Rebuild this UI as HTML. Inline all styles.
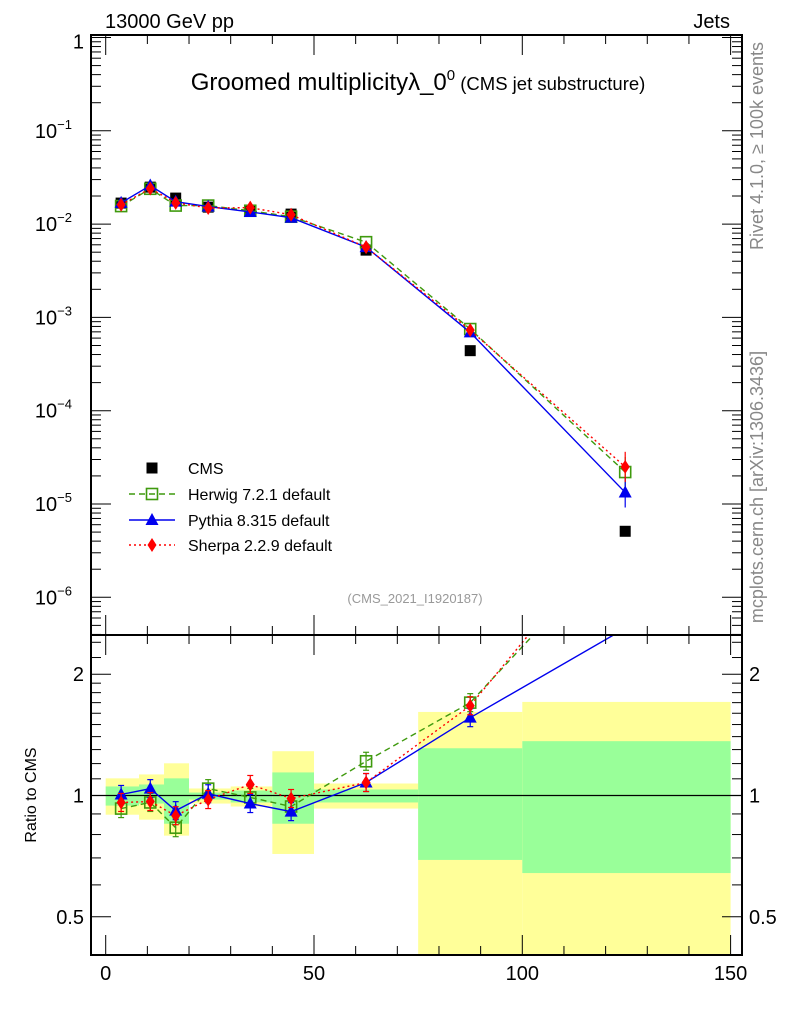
<!DOCTYPE html>
<html><head><meta charset="utf-8"><style>
body{margin:0;background:#fff;}
svg text{font-family:"Liberation Sans",sans-serif;}
</style></head><body>
<svg id="c" width="786" height="1024" xmlns="http://www.w3.org/2000/svg">
<text x="105" y="28" font-size="20">13000 GeV pp</text>
<text x="730" y="28" font-size="20" text-anchor="end">Jets</text>
<text x="418" y="90" font-size="24" text-anchor="middle">Groomed multiplicityλ_0<tspan dy="-10" font-size="15">0</tspan><tspan dy="10" font-size="18.5"> (CMS jet substructure)</tspan></text>
<text x="415" y="603" font-size="13" fill="#999" text-anchor="middle">(CMS_2021_I1920187)</text>
<text transform="translate(763,146) rotate(-90)" font-size="18" fill="#888" text-anchor="middle">Rivet 4.1.0, ≥ 100k events</text>
<text transform="translate(763,487) rotate(-90)" font-size="18" fill="#888" text-anchor="middle">mcplots.cern.ch [arXiv:1306.3436]</text>
<text transform="translate(36,795) rotate(-90)" font-size="16" text-anchor="middle">Ratio to CMS</text>
<g id="bands"></g><g id="grid"></g><g id="marks"></g><g id="axes"></g>
</svg>
<script>
const xs=[3.7,10.7,16.8,24.6,34.7,44.5,62.5,87.5,124.7];
const binEdges=[0,8,14,20,30,40,50,75,100,150];
const cms=[0.0168,0.0249,0.0190,0.0152,0.0141,0.0128,0.00526,0.00044,0.0000051];
const herwig=[0.0156,0.0239,0.0158,0.0158,0.0139,0.0120,0.0064,0.00075,0.000022];
const pythia=[0.0169,0.0259,0.0174,0.0154,0.0135,0.0117,0.00567,0.00069,0.0000133];
const sherpa=[0.0161,0.0241,0.0169,0.0149,0.0150,0.0126,0.00567,0.00073,0.000025];
const herwigRatio=[0.928,0.961,0.832,1.04,0.989,0.939,1.216,1.70,4.4];
const pythiaRatio=[1.006,1.04,0.917,1.01,0.955,0.912,1.077,1.56,2.6];
const sherpaRatio=[0.961,0.966,0.891,0.977,1.065,0.983,1.077,1.67,4.9];
const yellowUp=[1.103,1.128,1.202,1.041,1.053,1.288,1.071,1.612,1.707];
const yellowDn=[0.896,0.871,0.795,0.955,0.939,0.716,0.928,0.3,0.3];
const greenUp=[1.053,1.065,1.103,1.017,1.029,1.141,1.035,1.31,1.364];
const greenDn=[0.944,0.955,0.851,0.977,0.961,0.851,0.961,0.692,0.642];
const xTicks=[0,50,100,150];
const yExps=[0,-1,-2,-3,-4,-5,-6];
const ratioTicks=[2,1,0.5];

const NS='http://www.w3.org/2000/svg';
const L=91,R=742,T=35,MB=635,RB=955;
const X=v=>105.7+v*4.166;
const Y=v=>37.5-Math.log10(v)*93.3;
const RY=v=>795.5-Math.log2(v)*121.3;
function mk(p,tag,a){const e=document.createElementNS(NS,tag);for(const k in a)e.setAttribute(k,a[k]);document.getElementById(p).appendChild(e);return e;}
const clip=mk('bands','clipPath',{id:'rc'});
const cr=document.createElementNS(NS,'rect');cr.setAttribute('x',L);cr.setAttribute('y',MB);cr.setAttribute('width',R-L);cr.setAttribute('height',RB-MB);clip.appendChild(cr);
const clip2=mk('bands','clipPath',{id:'mc'});
const cr2=document.createElementNS(NS,'rect');cr2.setAttribute('x',L);cr2.setAttribute('y',T);cr2.setAttribute('width',R-L);cr2.setAttribute('height',MB-T);clip2.appendChild(cr2);

for(let i=0;i<xs.length;i++){
 const x0=X(binEdges[i]),x1=X(binEdges[i+1]);
 const y1=RY(yellowUp[i]),y2=Math.min(RY(yellowDn[i]),RB);
 let e=mk('bands','rect',{x:x0,y:y1,width:x1-x0,height:y2-y1,fill:'#ffff99'});
 
 
 const g1=RY(greenUp[i]),g2=RY(greenDn[i]);
 e=mk('bands','rect',{x:x0,y:g1,width:x1-x0,height:g2-g1,fill:'#99ff99'});
 
 
}
mk('grid','line',{x1:L,x2:R,y1:RY(1),y2:RY(1),stroke:'#000','stroke-width':1.3});

const series=[
 {n:'herwig',v:herwig,r:herwigRatio,c:'#3f9a0e',d:'6,4',m:'sq'},
 {n:'pythia',v:pythia,r:pythiaRatio,c:'#0000ee',d:'',m:'tri'},
 {n:'sherpa',v:sherpa,r:sherpaRatio,c:'#ff0000',d:'2,3',m:'dia'}];
function marker(g,t,x,y,c,name){
 let e;
 if(t==='sq')e=mk(g,'rect',{x:x-5.5,y:y-5.5,width:11,height:11,fill:'none',stroke:c,'stroke-width':1.6});
 else if(t==='tri')e=mk(g,'polygon',{points:`${x},${y-7} ${x-6.5},${y+5} ${x+6.5},${y+5}`,fill:c});
 else if(t==='dia')e=mk(g,'polygon',{points:`${x},${y-7} ${x-4.5},${y} ${x},${y+7} ${x+4.5},${y}`,fill:c});
 else e=mk(g,'rect',{x:x-5.5,y:y-5.5,width:11,height:11,fill:c});
 
 
}
for(let i=0;i<xs.length;i++){marker('marks','cms',X(xs[i]),Y(cms[i]),'#000','cms-point');}
series.forEach(s=>{
 let p=xs.map((x,i)=>X(x)+','+Y(s.v[i])).join(' ');
 let e=mk('marks','polyline',{points:p,fill:'none',stroke:s.c,'stroke-width':1.4,'stroke-dasharray':s.d,'clip-path':'url(#mc)'});
 
 
 p=xs.map((x,i)=>X(x)+','+RY(s.r[i])).join(' ');
 e=mk('marks','polyline',{points:p,fill:'none',stroke:s.c,'stroke-width':1.4,'stroke-dasharray':s.d,'clip-path':'url(#rc)'});
 
 
 for(let i=0;i<xs.length;i++){
  const x=X(xs[i]);
  if(i===8){mk('marks','line',{x1:x,x2:x,y1:Y(s.v[i]*1.45),y2:Y(s.v[i]/1.45),stroke:s.c,'stroke-width':1.2});}
  marker('marks',s.m,x,Y(s.v[i]),s.c,s.n+'-point');
  const ry=RY(s.r[i]);
  if(ry>MB){
   mk('marks','line',{x1:x,x2:x,y1:ry-9,y2:ry+9,stroke:s.c,'stroke-width':1.2});
   mk('marks','line',{x1:x-3,x2:x+3,y1:ry-9,y2:ry-9,stroke:s.c,'stroke-width':1.2});
   mk('marks','line',{x1:x-3,x2:x+3,y1:ry+9,y2:ry+9,stroke:s.c,'stroke-width':1.2});
   marker('marks',s.m,x,ry,s.c,s.n+'-ratio-point');
  }
 }
});
mk('axes','rect',{x:L,y:T,width:R-L,height:MB-T,fill:'none',stroke:'#000','stroke-width':2});
mk('axes','rect',{x:L,y:MB,width:R-L,height:RB-MB,fill:'none',stroke:'#000','stroke-width':2});
for(let v=0;v<=150;v+=10){
 const x=X(v),big=v%50===0,h=big?20:9;
 [T,MB].forEach(y0=>mk('axes','line',{x1:x,x2:x,y1:y0,y2:y0+h,stroke:'#000','stroke-width':1}));
 [MB,RB].forEach(y0=>mk('axes','line',{x1:x,x2:x,y1:y0,y2:y0-h,stroke:'#000','stroke-width':1}));
}
xTicks.forEach(v=>{const t=mk('axes','text',{x:X(v),y:980,'font-size':20,'text-anchor':'middle'});t.textContent=v;
 
 });
yExps.forEach(e=>{
 const y=Y(Math.pow(10,e));
 [[L,1],[R,-1]].forEach(([x0,s])=>{mk('axes','line',{x1:x0,x2:x0+s*20,y1:y,y2:y,stroke:'#000'});
  for(let k=2;k<=9;k++){const yy=Y(k*Math.pow(10,e-1));if(yy<MB&&yy>T)mk('axes','line',{x1:x0,x2:x0+s*10,y1:yy,y2:yy,stroke:'#000'});}});
 const t=mk('axes','text',{x:84,y:y+7,'font-size':20,'text-anchor':'end'});
 
 
 if(e===0){t.textContent='1';t.setAttribute('y',y+11);}else{t.innerHTML='10<tspan dy="-9" font-size="13">'+'\u2212'+(-e)+'</tspan>';t.setAttribute('x',84-12);}
});
const rminor=[0.4,0.6,0.7,0.8,0.9,1.1,1.2,1.3,1.4,1.5,1.6,1.7,1.8,1.9,2.2,2.4];
[[L,1],[R,-1]].forEach(([x0,s])=>{
 ratioTicks.forEach(v=>mk('axes','line',{x1:x0,x2:x0+s*20,y1:RY(v),y2:RY(v),stroke:'#000'}));
 rminor.forEach(v=>{const y=RY(v);if(y>MB&&y<RB)mk('axes','line',{x1:x0,x2:x0+s*10,y1:y,y2:y,stroke:'#000'});});
});
ratioTicks.forEach(v=>{
 let t=mk('axes','text',{x:84,y:RY(v)+7,'font-size':20,'text-anchor':'end'});t.textContent=v;
 
 
 t=mk('axes','text',{x:749,y:RY(v)+7,'font-size':20});t.textContent=v;
 
 
});
const leg=[['CMS','#000','','cms'],['Herwig 7.2.1 default','#3f9a0e','6,4','sq'],['Pythia 8.315 default','#0000ee','','tri'],['Sherpa 2.2.9 default','#ff0000','2,3','dia']];
const legY=[468,494,520,545];
leg.forEach((l,i)=>{
 const y=legY[i];
 if(i>0)mk('axes','line',{x1:129,x2:175,y1:y,y2:y,stroke:l[1],'stroke-width':1.4,'stroke-dasharray':l[2]});
 marker('axes',l[3],152,y,l[1],'legend-marker');
 const t=mk('axes','text',{x:188,y:y+6,'font-size':16});t.textContent=l[0];
 
 
});
</script>
</body></html>
